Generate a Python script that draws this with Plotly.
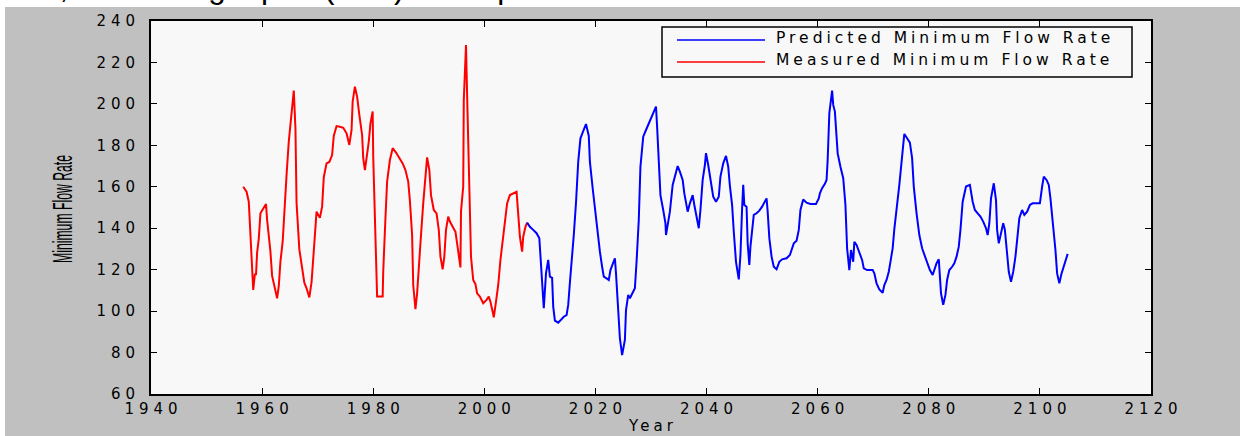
import plotly.graph_objects as go

# Measured minimum flow rate (red), by year
measured_years = [
    1956.6, 1957.2, 1957.6, 1957.8, 1958.0, 1958.2, 1958.4, 1958.7, 1958.9, 1959.1,
    1959.4, 1959.7, 1960.2, 1960.7, 1960.9, 1961.2, 1961.5, 1961.8, 1962.1, 1962.4,
    1962.7, 1963.0, 1963.3, 1963.7, 1964.0, 1964.4, 1964.8, 1965.3, 1965.7, 1966.0,
    1966.2, 1966.7, 1967.2, 1967.6, 1968.0, 1968.5, 1968.9, 1969.2, 1969.5, 1969.8,
    1970.4, 1970.8, 1971.1, 1971.6, 1972.1, 1972.6, 1972.9, 1973.4, 1974.0, 1974.6,
    1975.2, 1975.7, 1976.1, 1976.3, 1976.7, 1977.1, 1977.5, 1978.0, 1978.2, 1978.5,
    1978.8, 1979.2, 1979.5, 1979.9, 1980.0, 1980.4, 1980.7, 1981.7, 1981.8, 1982.2,
    1982.5, 1983.0, 1983.5, 1984.1, 1984.7, 1985.3, 1985.8, 1986.3, 1986.6, 1987.0,
    1987.2, 1987.6, 1987.9, 1988.3, 1988.6, 1989.0, 1989.4, 1989.7, 1990.1, 1990.4,
    1990.9, 1991.4, 1991.8, 1992.1, 1992.5, 1992.8, 1993.1, 1993.5, 1993.8, 1994.3,
    1994.8, 1995.1, 1995.5, 1995.7, 1995.8, 1996.2, 1996.3, 1996.7, 1996.9, 1997.3,
    1997.6, 1998.0, 1998.4, 1998.7, 1999.2, 1999.8, 2000.4, 2000.8, 2001.1, 2001.5,
    2001.7, 2002.1, 2002.5, 2002.9, 2003.3, 2003.7, 2004.1, 2004.6, 2005.2, 2005.8,
    2006.0, 2006.4, 2006.8, 2007.0, 2007.4, 2007.7,
]
measured_flow = [
    160.0, 157.6, 152.8, 141.0, 128.0, 120.6, 110.2, 118.0, 117.4, 128.2,
    135.0, 147.2, 149.6, 151.7, 144.0, 136.0, 128.7, 117.0, 113.0, 110.5,
    106.2, 112.0, 124.0, 133.5, 149.6, 165.7, 181.8, 197.9, 206.4, 188.2,
    152.3, 129.8, 120.6, 113.7, 111.0, 106.6, 114.0, 126.6, 140.7, 148.0,
    145.0, 150.4, 164.6, 171.3, 172.0, 175.3, 184.5, 189.3, 189.0, 188.5,
    185.8, 180.2, 187.4, 201.1, 208.3, 203.5, 194.7, 185.0, 173.8, 168.1,
    173.8, 181.8, 190.6, 196.3, 174.6, 129.5, 107.0, 107.0, 119.0, 144.8,
    162.5, 172.9, 178.6, 176.5, 173.8, 171.3, 168.1, 162.5, 153.3, 136.7,
    112.6, 100.9, 108.6, 122.3, 136.7, 152.0, 166.8, 174.2, 168.1, 156.0,
    148.8, 147.2, 139.2, 126.3, 120.2, 126.3, 139.2, 145.6, 143.2, 140.7,
    138.3, 132.7, 124.7, 121.1, 148.0, 160.1, 201.6, 228.4, 204.3, 156.0,
    126.3, 115.0, 113.0, 108.6, 107.0, 103.8, 105.4, 107.0, 104.5, 99.7,
    97.0, 104.6, 112.6, 124.7, 134.3, 143.2, 152.0, 156.0, 156.8, 157.6,
    150.4, 135.9, 128.7, 135.9, 140.7, 142.7,
]

# Predicted minimum flow rate (blue), by year
predicted_years = [
    2007.7, 2008.2, 2008.8, 2009.4, 2009.9, 2010.1, 2010.5, 2010.7, 2011.1, 2011.5,
    2011.8, 2012.2, 2012.4, 2012.7, 2013.3, 2013.7, 2014.3, 2014.8, 2015.1, 2015.4,
    2015.8, 2016.1, 2016.5, 2016.9, 2017.3, 2017.8, 2018.3, 2018.8, 2019.0, 2019.5,
    2020.0, 2020.3, 2020.8, 2021.2, 2021.5, 2022.0, 2022.4, 2022.7, 2023.1, 2023.5,
    2023.7, 2024.1, 2024.4, 2024.8, 2025.3, 2025.5, 2025.9, 2026.2, 2026.7, 2027.1,
    2027.4, 2027.8, 2028.1, 2028.6, 2029.1, 2029.6, 2030.0, 2030.4, 2030.9, 2031.1,
    2031.4, 2031.7, 2032.2, 2032.6, 2032.7, 2033.1, 2033.4, 2033.9, 2034.4, 2034.8,
    2035.2, 2035.7, 2036.0, 2036.4, 2036.6, 2037.0, 2037.5, 2037.8, 2038.2, 2038.6,
    2038.9, 2039.3, 2039.7, 2039.9, 2040.3, 2040.9, 2041.2, 2041.7, 2042.2, 2042.5,
    2043.0, 2043.5, 2043.9, 2044.2, 2044.6, 2044.9, 2045.3, 2045.8, 2046.1, 2046.4,
    2046.6, 2046.8, 2047.2, 2047.4, 2047.7, 2047.9, 2048.2, 2048.5, 2049.0, 2049.5,
    2050.0, 2050.4, 2050.8, 2051.0, 2051.3, 2051.7, 2052.1, 2052.6, 2053.1, 2053.6,
    2054.4, 2055.0, 2055.4, 2055.7, 2056.2, 2056.6, 2056.9, 2057.4, 2058.0, 2058.7,
    2059.7, 2060.2, 2060.4, 2060.8, 2061.3, 2061.6, 2061.8, 2062.1, 2062.6, 2062.8,
    2063.1, 2063.3, 2063.6, 2064.1, 2064.6, 2065.0, 2065.3, 2065.7, 2066.0, 2066.4,
    2066.6, 2067.0, 2067.5, 2068.0, 2068.3, 2068.9, 2069.9, 2070.2, 2070.6, 2071.1,
    2071.7, 2072.0, 2072.4, 2072.8, 2073.1, 2073.5, 2073.8, 2074.2, 2074.7, 2075.3,
    2075.6, 2076.1, 2076.6, 2077.0, 2077.3, 2077.8, 2078.3, 2078.8, 2079.2, 2079.7,
    2080.2, 2080.7, 2081.1, 2081.4, 2081.8, 2082.0, 2082.2, 2082.6, 2083.0, 2083.3,
    2083.7, 2084.2, 2084.6, 2085.0, 2085.4, 2085.7, 2086.1, 2086.7, 2087.4, 2087.9,
    2088.3, 2088.8, 2089.3, 2089.8, 2090.3, 2090.6, 2090.9, 2091.2, 2091.7, 2092.1,
    2092.3, 2092.6, 2092.9, 2093.4, 2093.7, 2094.0, 2094.4, 2094.8, 2095.2, 2095.6,
    2095.9, 2096.3, 2096.8, 2097.2, 2097.7, 2098.2, 2098.7, 2099.4, 2100.0, 2100.4,
    2100.7, 2101.2, 2101.6, 2101.9, 2102.4, 2102.8, 2103.1, 2103.5, 2103.9, 2104.2,
    2104.6, 2105.0,
]
predicted_flow = [
    142.7, 140.7, 139.2, 137.6, 135.2, 126.3, 110.2, 101.4, 118.2, 124.7,
    116.6, 116.0, 102.2, 95.4, 94.4, 95.7, 97.3, 98.1, 103.0, 113.7,
    124.7, 136.7, 152.3, 172.1, 183.4, 187.4, 190.3, 184.5, 172.1, 159.3,
    147.5, 138.3, 128.7, 121.4, 116.6, 115.8, 115.0, 119.8, 122.3, 125.5,
    118.2, 102.2, 86.9, 78.8, 86.1, 100.5, 107.8, 106.2, 108.6, 111.0,
    123.8, 144.0, 169.7, 184.2, 187.4, 190.6, 193.1, 195.5, 198.7, 189.0,
    171.3, 156.0, 148.8, 142.4, 136.7, 143.2, 148.0, 160.9, 166.5, 170.0,
    167.3, 163.3, 156.8, 151.2, 148.0, 152.0, 156.0, 151.2, 145.6, 140.0,
    148.8, 163.3, 170.5, 176.2, 170.5, 160.9, 155.2, 152.8, 155.2, 164.9,
    171.3, 174.9, 169.7, 160.4, 151.2, 138.3, 123.8, 115.3, 127.1, 149.6,
    160.9, 151.2, 150.4, 132.7, 122.3, 131.1, 140.7, 146.4, 147.2, 148.5,
    150.4, 152.8, 154.4, 148.0, 135.2, 126.3, 121.4, 120.2, 123.8, 125.0,
    125.5, 127.1, 130.3, 132.7, 134.0, 139.2, 148.8, 153.9, 152.3, 151.7,
    151.7, 154.4, 156.8, 159.3, 161.4, 163.3, 172.9, 195.5, 206.4, 199.5,
    196.3, 186.6, 176.1, 169.7, 164.1, 151.2, 130.3, 119.8, 129.5, 123.8,
    133.5, 131.9, 127.9, 124.7, 120.6, 119.8, 119.8, 118.2, 113.4, 110.5,
    108.9, 112.6, 115.0, 119.0, 123.8, 130.3, 139.6, 148.0, 160.9, 177.4,
    185.5, 183.4, 181.3, 173.8, 160.1, 147.2, 136.7, 130.3, 127.1, 123.1,
    119.8, 117.4, 120.6, 123.1, 125.0, 118.2, 108.6, 103.0, 107.8, 115.0,
    119.8, 121.4, 123.1, 126.3, 131.1, 139.2, 152.8, 160.1, 160.9, 152.8,
    148.8, 147.2, 145.6, 143.2, 140.0, 136.7, 142.4, 154.4, 161.7, 153.6,
    139.2, 132.7, 136.7, 142.4, 139.2, 129.5, 119.0, 114.2, 119.0, 126.3,
    135.2, 144.8, 148.8, 146.4, 148.0, 151.2, 152.0, 152.0, 152.0, 160.1,
    164.9, 163.3, 160.9, 154.4, 141.6, 129.5, 118.2, 113.4, 118.2, 120.6,
    124.7, 127.6,
]

year_ticks = list(range(1940, 2121, 20))
flow_ticks = list(range(60, 241, 20))

legend_labels = ["Predicted Minimum Flow Rate", "Measured Minimum Flow Rate"]
legend_colors = ["#0000ff", "#ff0000"]

caption = ("The left part (red) is the measured minimum flow rate, "
           "and the right part (blue) is the predicted minimum flow rate")

# Page and plot-area geometry (pixels)
W, H = 1240, 436
ML, MR, MT, MB = 151, 89, 21, 42
PW, PH = W - ML - MR, H - MT - MB


def fx(px):
    """Page x pixel -> paper fraction."""
    return (px - ML) / PW


def fy(py):
    """Page y pixel -> paper fraction."""
    return (H - MB - py) / PH


TICK_FONT = dict(family="DejaVu Sans", size=15, color="black")

fig = go.Figure()
fig.add_trace(go.Scatter(
    x=measured_years, y=measured_flow, mode="lines", name=legend_labels[1],
    line=dict(color=legend_colors[1], width=2), showlegend=False,
))
fig.add_trace(go.Scatter(
    x=predicted_years, y=predicted_flow, mode="lines", name=legend_labels[0],
    line=dict(color=legend_colors[0], width=2), showlegend=False,
))

axis_common = dict(
    automargin=False,
    showgrid=False, zeroline=False, showline=True, linecolor="black",
    linewidth=1.8, mirror="ticks", ticks="inside", ticklen=6, tickwidth=1.2,
    tickcolor="black", tickfont=TICK_FONT,
)
fig.update_xaxes(
    range=[1940, 2120], tickvals=year_ticks, ticktext=[str(v) for v in year_ticks],
    title=dict(text="Year", font=dict(family="DejaVu Sans", size=15, color="black"),
               standoff=4),
    ticklabelstandoff=0,
    **axis_common,
)
fig.update_yaxes(
    range=[60, 240], tickvals=flow_ticks, ticktext=[str(v) for v in flow_ticks],
    title=dict(text="Minimum Flow Rate",
               font=dict(family="Liberation Sans", size=28, color="black")),
    ticklabelstandoff=11,
    **axis_common,
)

shapes = [
    # white strip along the top edge and the left edge of the figure
    dict(type="rect", xref="paper", yref="paper", x0=fx(-5), x1=fx(W + 5),
         y0=fy(7), y1=fy(-5), fillcolor="white", line=dict(width=0), layer="below"),
    dict(type="rect", xref="paper", yref="paper", x0=fx(-5), x1=fx(5),
         y0=fy(H + 5), y1=fy(-5), fillcolor="white", line=dict(width=0), layer="below"),
    # legend frame
    dict(type="rect", xref="paper", yref="paper", x0=fx(662), x1=fx(1132),
         y0=fy(77), y1=fy(27), fillcolor="#f8f8f8",
         line=dict(color="black", width=1.5), layer="above"),
]
legend_rows = [40, 62]
for row_y, color in zip(legend_rows, legend_colors):
    shapes.append(dict(type="line", xref="paper", yref="paper",
                       x0=fx(677), x1=fx(765), y0=fy(row_y), y1=fy(row_y),
                       line=dict(color=color, width=1.5), layer="above"))

annotations = [
    dict(text=caption, xref="paper", yref="paper", x=fx(893), y=fy(7),
         xanchor="right", yanchor="bottom", showarrow=False,
         font=dict(family="Liberation Sans", size=31.5, color="black")),
]
for row_y, label in zip(legend_rows, legend_labels):
    annotations.append(dict(
        text=label, xref="paper", yref="paper", x=fx(774), y=fy(row_y - 2),
        xanchor="left", yanchor="middle", align="left", showarrow=False,
        font=dict(family="DejaVu Sans", size=15.5, color="black"),
    ))

fig.update_layout(
    width=W, height=H,
    margin=dict(l=ML, r=MR, t=MT, b=MB, pad=0, autoexpand=False),
    paper_bgcolor="#c0c0c0", plot_bgcolor="#f8f8f8",
    showlegend=False, shapes=shapes, annotations=annotations,
)

# Wide letter tracking for tick labels and legend text, and a condensed y-axis title.
post_js = """
document.body.style.margin = '0';
var gd = document.getElementById('{plot_id}');
function track(sel, sp, dx) {
  gd.querySelectorAll(sel).forEach(function (t) {
    t.style.letterSpacing = sp + 'px';
    if (dx) { t.setAttribute('dx', dx); }
  });
}
track('.xtick text', 5, 2.5);
track('.ytick text', 5, 5);
track('.xtitle', 4, 2);
track('g.annotation[data-index="1"] text, g.annotation[data-index="2"] text', 4, 0);
var yt = gd.querySelector('.ytitle');
if (yt) {
  var x = parseFloat(yt.getAttribute('x')), y = parseFloat(yt.getAttribute('y'));
  var s = 108 / yt.getComputedTextLength();
  var tx = 72 - x, ty = 209 - y;
  yt.setAttribute('transform',
    'translate(' + tx + ',' + ty + ') rotate(-90,' + x + ',' + y + ') ' +
    'translate(' + x + ',' + y + ') scale(' + s + ',1) translate(' + (-x) + ',' + (-y) + ')');
}
"""

fig.write_html("out.html", include_plotlyjs=True, full_html=True,
               post_script=post_js, config={"displayModeBar": False})
